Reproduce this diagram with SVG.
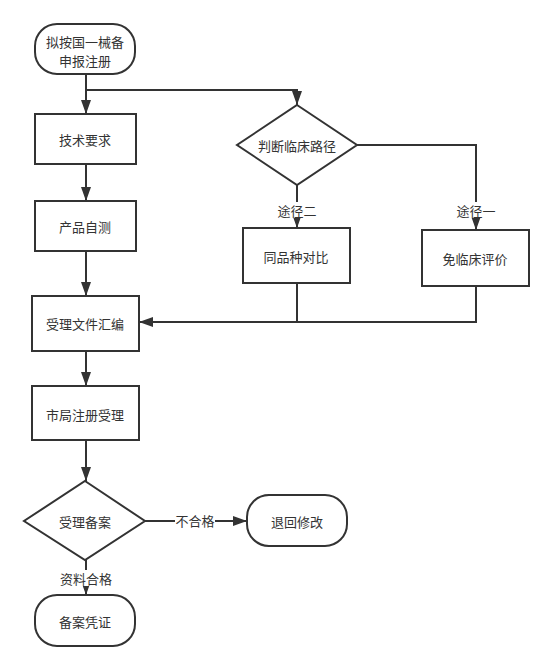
<svg xmlns="http://www.w3.org/2000/svg" width="553" height="671" viewBox="0 0 553 671">
<style>
.s{fill:#fff;stroke:#333;stroke-width:2}
.t{font-family:"Noto Sans CJK SC","Liberation Sans",sans-serif;font-size:13px;fill:#333;text-anchor:middle;dominant-baseline:central}
.c{fill:none;stroke:#333;stroke-width:2}
.bg{fill:#fff}
</style>
<defs>
<marker id="a" markerWidth="14" markerHeight="10" refX="14" refY="5" orient="auto" markerUnits="userSpaceOnUse">
<path d="M0,0 L14,5 L0,10 Z" fill="#333"/>
</marker>
</defs>
<rect width="553" height="671" fill="#fff"/>
<g id="connectors">
<path class="c" d="M86,74 V114" marker-end="url(#a)"/>
<path class="c" d="M86,90 H297 V105" marker-end="url(#a)"/>
<path class="c" d="M86,164 V201" marker-end="url(#a)"/>
<path class="c" d="M86,251 V296" marker-end="url(#a)"/>
<path class="c" d="M297,185 V228" marker-end="url(#a)"/>
<path class="c" d="M357,145 H476 V230" marker-end="url(#a)"/>
<path class="c" d="M297,283 V322"/>
<path class="c" d="M476,286 V322 H139" marker-end="url(#a)"/>
<path class="c" d="M86,351 V386" marker-end="url(#a)"/>
<path class="c" d="M86,440 V481" marker-end="url(#a)"/>
<path class="c" d="M145,521 H247" marker-end="url(#a)"/>
<path class="c" d="M86,560 V595" marker-end="url(#a)"/>
<rect class="bg" x="275" y="202" width="44" height="16"/>
<text class="t" x="297" y="210">途径二</text>
<rect class="bg" x="454" y="202" width="44" height="16"/>
<text class="t" x="476" y="210">途径一</text>
<rect class="bg" x="175" y="512" width="40" height="16"/>
<text class="t" x="195" y="520">不合格</text>
<rect class="bg" x="59" y="570" width="54" height="16"/>
<text class="t" x="86" y="578">资料合格</text>
</g>
<g id="start">
<rect class="s" x="35" y="24" width="100" height="50" rx="22"/>
<text class="t" x="85" y="41">拟按国一械备</text>
<text class="t" x="85" y="60">申报注册</text>
</g>
<g id="tech">
<rect class="s" x="35" y="114" width="101" height="50"/>
<text class="t" x="85" y="139">技术要求</text>
</g>
<g id="selftest">
<rect class="s" x="35" y="201" width="101" height="50"/>
<text class="t" x="85" y="226">产品自测</text>
</g>
<g id="judge">
<polygon class="s" points="297,105 357,145 297,185 237,145"/>
<text class="t" x="297" y="145">判断临床路径</text>
</g>
<g id="compare">
<rect class="s" x="243" y="228" width="107" height="55"/>
<text class="t" x="296" y="256">同品种对比</text>
</g>
<g id="exempt">
<rect class="s" x="422" y="230" width="107" height="56"/>
<text class="t" x="475" y="258">免临床评价</text>
</g>
<g id="compile">
<rect class="s" x="32" y="296" width="107" height="55"/>
<text class="t" x="85" y="323">受理文件汇编</text>
</g>
<g id="bureau">
<rect class="s" x="32" y="386" width="107" height="54"/>
<text class="t" x="85" y="414">市局注册受理</text>
</g>
<g id="filing">
<polygon class="s" points="85,481 145,521 85,560 24,521"/>
<text class="t" x="85" y="521">受理备案</text>
</g>
<g id="return">
<rect class="s" x="247" y="495" width="100" height="51" rx="22"/>
<text class="t" x="297" y="521">退回修改</text>
</g>
<g id="cert">
<rect class="s" x="35" y="595" width="100" height="51" rx="22"/>
<text class="t" x="85" y="621">备案凭证</text>
</g>
</svg>
